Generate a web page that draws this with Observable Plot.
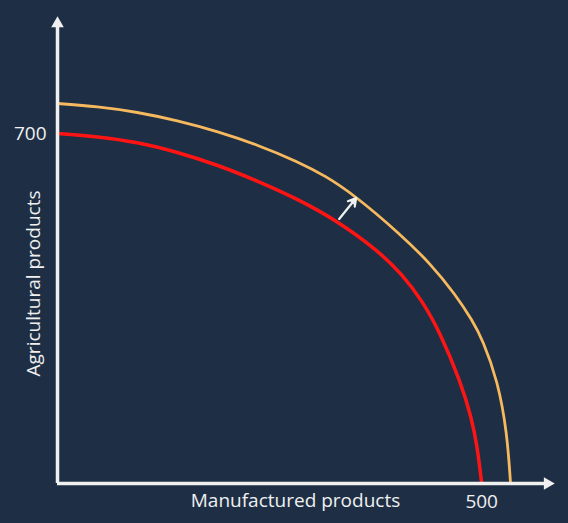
<!DOCTYPE html>
<html>
<head>
<meta charset="utf-8">
<script src="https://cdn.jsdelivr.net/npm/d3@7"></script>
<script src="https://cdn.jsdelivr.net/npm/@observablehq/plot@0.6"></script>
<style>
  html, body { margin: 0; padding: 0; background: #1e2f45; }
  #chart { width: 568px; height: 523px; }
</style>
</head>
<body>
<div id="chart"></div>
<script>
// Original PPF (red)
const redX = [0, 47, 94, 141, 189, 236, 283, 330, 377, 407, 430, 451, 475, 488, 495, 500];
const redY = [700, 694, 683, 663, 637, 605, 569, 525, 467, 417, 365, 302, 204, 132, 72, 0];
// Shifted PPF (orange)
const orangeX = [0, 47, 94, 141, 189, 236, 283, 316, 349, 404, 440, 469, 489, 501, 519, 530, 534];
const orangeY = [760, 754, 743, 726, 704, 677, 644, 615, 578, 499, 439, 378, 326, 288, 205, 101, 0];
// Shift arrow (from, to)
const shiftFrom = [332, 529];
const shiftTo = [352, 571];
// Axis extents and tick labels
const xMax = 587;
const yMax = 936;
const xTicks = [500];
const yTicks = [700];
const xLabel = "Manufactured products";
const yLabel = "Agricultural products";

const red = redX.map((x, i) => ({x, y: redY[i]}));
const orange = orangeX.map((x, i) => ({x, y: orangeY[i]}));

const axisColor = "#f0f0f0";
const font = "'Open Sans', sans-serif";

const chart = Plot.plot({
  width: 568,
  height: 523,
  marginLeft: 57,
  marginRight: 13,
  marginTop: 15,
  marginBottom: 40,
  style: {background: "#1e2f45", color: axisColor, fontFamily: font},
  x: {domain: [0, xMax]},
  y: {domain: [0, yMax]},
  marks: [
    Plot.axisX({ticks: xTicks, tickSize: 0, tickPadding: 11, fontSize: 19, label: null, tickFormat: d => String(d)}),
    Plot.axisY({ticks: yTicks, tickSize: 0, tickPadding: 11, fontSize: 19, label: null, tickFormat: d => String(d)}),
    Plot.text([xLabel], {frameAnchor: "bottom", textAnchor: "middle", lineAnchor: "middle", text: d => d, dx: -11, dy: 17, fontSize: 19, fill: axisColor}),
    Plot.text([yLabel], {frameAnchor: "left", textAnchor: "middle", lineAnchor: "middle", text: d => d, rotate: -90, dx: -24, dy: 34, fontSize: 19, fill: axisColor}),
    Plot.line(red, {x: "x", y: "y", stroke: "#ff1414", strokeWidth: 3.5, curve: "basis"}),
    Plot.line(orange, {x: "x", y: "y", stroke: "#f6b95e", strokeWidth: 2.8, curve: "basis"}),
    Plot.arrow([{x1: shiftFrom[0], y1: shiftFrom[1], x2: shiftTo[0], y2: shiftTo[1]}], {x1: "x1", y1: "y1", x2: "x2", y2: "y2", stroke: "#f0f0f0", strokeWidth: 2.2, headLength: 6}),
    Plot.dot([{x: shiftTo[0], y: shiftTo[1]}], {x: "x", y: "y", symbol: "triangle2", r: 3, fill: "#f0f0f0", stroke: "none", rotate: 42, dx: -3, dy: 3.5}),
    Plot.ruleY([0], {x1: 0, x2: xMax - 12, stroke: axisColor, strokeWidth: 3.5}),
    Plot.ruleX([0], {y1: 0, y2: yMax - 20, stroke: axisColor, strokeWidth: 3.5}),
    Plot.dot([{x: xMax, y: 0}], {x: "x", y: "y", symbol: "triangle2", r: 6, fill: axisColor, stroke: "none", rotate: 90, dx: -8}),
    Plot.dot([{x: 0, y: yMax}], {x: "x", y: "y", symbol: "triangle2", r: 6, fill: axisColor, stroke: "none", dy: 8})
  ]
});
document.getElementById("chart").appendChild(chart);
</script>
</body>
</html>
